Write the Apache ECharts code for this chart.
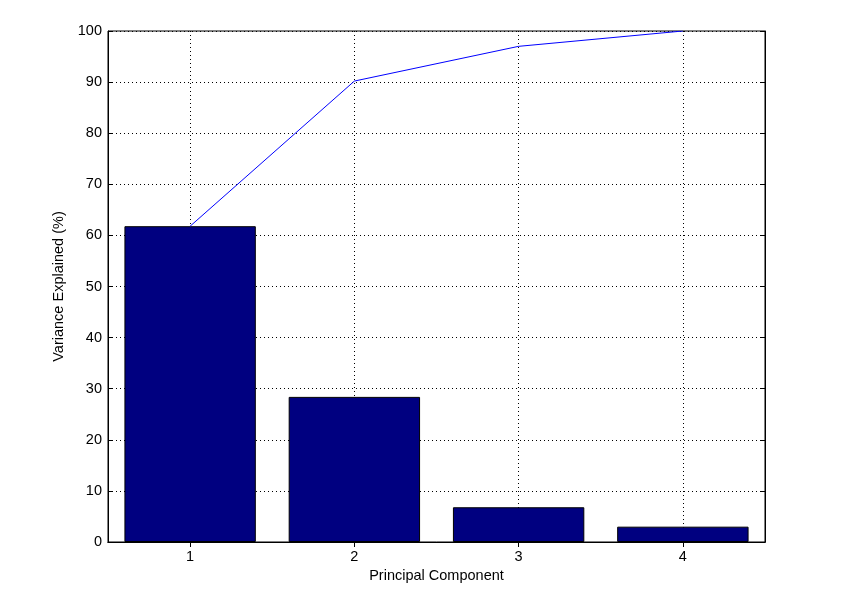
<!DOCTYPE html>
<html>
<head>
<meta charset="utf-8">
<script src="https://cdn.jsdelivr.net/npm/echarts@6/dist/echarts.min.js"></script>
<style>
html,body{margin:0;padding:0;background:#fff;}
#c{width:847px;height:610px;}
</style>
</head>
<body>
<div id="c"></div>
<script>
const categories = ['1', '2', '3', '4'];
const varianceExplained = [61.8, 28.4, 6.8, 3.0];
const cumulativeExplained = [61.8, 90.2, 97.0, 100];
const yTicks = [0, 10, 20, 30, 40, 50, 60, 70, 80, 90, 100];

const font = 'Liberation Sans, Arial, Helvetica, sans-serif';
const fs = 14.5;
const chart = echarts.init(document.getElementById('c'), null, {renderer: 'canvas'});
const dotted = {color: '#000', width: 1, type: [1, 3]};
chart.setOption({
  animation: false,
  backgroundColor: '#fff',
  grid: {left: 108, right: 82, top: 31, bottom: 68, show: true, borderColor: '#000', borderWidth: 1, backgroundColor: 'transparent'},
  xAxis: [{
    type: 'category',
    data: categories,
    boundaryGap: true,
    position: 'bottom',
    name: 'Principal Component',
    nameLocation: 'middle',
    nameGap: 26,
    nameTextStyle: {color: '#000', fontSize: fs, fontFamily: font},
    axisLine: {show: true, lineStyle: {color: '#000', width: 1}},
    axisTick: {show: true, inside: true, alignWithLabel: true, length: 5, lineStyle: {color: '#000'}},
    axisLabel: {color: '#000', fontSize: fs, fontFamily: font, margin: 7},
    splitLine: {show: true, alignWithLabel: true, lineStyle: dotted}
  }, {
    type: 'category',
    data: categories,
    boundaryGap: true,
    position: 'top',
    axisLine: {show: true, lineStyle: {color: '#000', width: 1}},
    axisTick: {show: true, inside: true, alignWithLabel: true, length: 5, lineStyle: {color: '#000'}},
    axisLabel: {show: false},
    splitLine: {show: false}
  }],
  yAxis: [{
    type: 'value',
    min: 0, max: 100, interval: 10,
    position: 'left',
    name: 'Variance Explained (%)',
    nameLocation: 'middle',
    nameRotate: 90,
    nameGap: 41,
    nameTextStyle: {color: '#000', fontSize: fs, fontFamily: font},
    axisLine: {show: true, lineStyle: {color: '#000', width: 1}},
    axisTick: {show: true, inside: true, length: 5, lineStyle: {color: '#000'}},
    axisLabel: {color: '#000', fontSize: fs, fontFamily: font, margin: 6,
      formatter: v => yTicks.includes(v) ? String(v) : ''},
    splitLine: {show: true, lineStyle: dotted}
  }, {
    type: 'value',
    min: 0, max: 100, interval: 10,
    position: 'right',
    axisLine: {show: true, lineStyle: {color: '#000', width: 1}},
    axisTick: {show: true, inside: true, length: 5, lineStyle: {color: '#000'}},
    axisLabel: {show: false},
    splitLine: {show: false}
  }],
  series: [{
    type: 'bar',
    data: varianceExplained,
    barWidth: '80%',
    itemStyle: {color: '#000080', borderColor: '#000', borderWidth: 1},
    z: 3
  }, {
    type: 'line',
    data: cumulativeExplained,
    symbol: 'none',
    lineStyle: {color: '#0000ff', width: 1},
    itemStyle: {color: '#0000ff'},
    z: 4
  }]
});
</script>
</body>
</html>
